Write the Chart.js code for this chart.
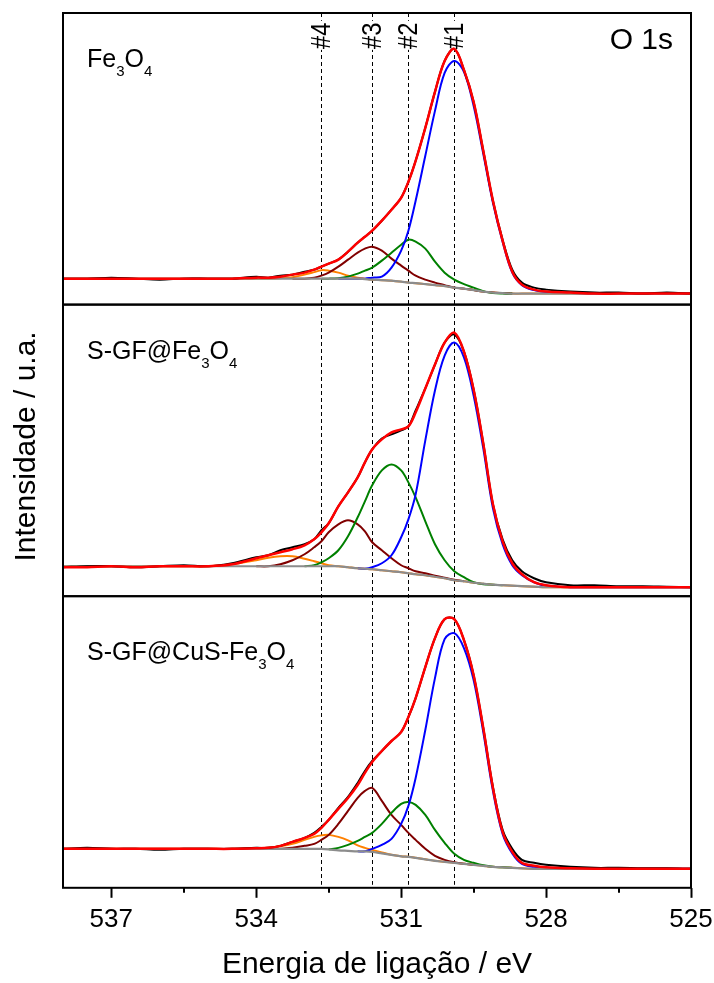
<!DOCTYPE html>
<html>
<head>
<meta charset="utf-8">
<title>O 1s XPS</title>
<script src="https://cdn.jsdelivr.net/npm/chart.js@4.4.1/dist/chart.umd.min.js"></script>
<style>
  html, body { margin: 0; padding: 0; background: #fff; }
  #wrap { width: 714px; height: 983px; }
</style>
</head>
<body>
<div id="wrap"><canvas id="xps" width="714" height="983"></canvas></div>
<script>
/* ============================================================
   O 1s — three stacked XPS panels with peak fits
   ============================================================ */

// binding energy grid (eV), shared by every series
const energy = [538, 537.5, 537, 536.5, 536, 535.5, 535, 534.5, 534, 533.75, 533.5, 533.25, 533,
  532.8, 532.65, 532.5, 532.3, 532.1, 531.9, 531.75, 531.6, 531.4, 531.2, 531, 530.85, 530.7,
  530.5, 530.3, 530.1, 529.9, 529.7, 529.5, 529.3, 529.1, 528.9, 528.7, 528.5, 528.25, 528,
  527.5, 527, 526.5, 526, 525.5, 525];

const xMajorTicks = [537, 534, 531, 528, 525];
const xMinorTicks = [535.5, 532.5, 529.5, 526.5];
const peakEnergies = [529.9, 530.85, 531.6, 532.65];
const peakLabels = ['#1', '#2', '#3', '#4'];
const sampleNames = ['Fe3O4', 'S-GF@Fe3O4', 'S-GF@CuS-Fe3O4'];

// ---- Fe3O4 (top) ----
const fe3o4Exp = [26, 26, 27, 26, 25, 26, 26, 26, 28, 27, 29, 30, 33, 35, 38, 41, 45, 53, 62, 68, 74, 84, 95, 107, 123, 144, 177, 213, 244, 256, 235, 203, 154, 104, 65, 35, 22, 17, 15, 13, 12, 12, 11, 12, 11];
const fe3o4Fit = [26, 26, 26, 26, 26, 26, 26, 26, 27, 27, 28, 30, 32, 35, 38, 41, 45, 53, 62, 68, 74, 84, 95, 107, 123, 144, 177, 213, 244, 256, 235, 203, 154, 104, 64, 33, 20, 15, 13, 12, 11, 11, 11, 11, 11];
const fe3o4Bg = [26, 26, 26, 26, 26, 26, 26, 26, 26, 26, 26, 26, 26, 26, 26, 26, 26, 26, 26, 25.5, 25, 24.5, 24, 23, 22, 21.5, 20.5, 19.5, 18.5, 17, 16, 14.5, 13, 12, 11.5, 11, 11, 11, 11, 11, 11, 11, 11, 11, 11];
const fe3o4P1 = [null, null, null, null, null, null, null, null, null, null, null, null, null, null, null, null, 26, 26, 26, 26, 27, 28, 37, 54, 74, 104, 149, 194, 232, 244, 233, 199, 151, 102, 63, 32, 19.5, 14.5, 12.5, 11.5, 11, 11, 11, 11, 11];
const fe3o4P2 = [null, null, null, null, null, null, null, null, null, null, null, null, null, null, 26, 26, 26.5, 28, 31, 34, 37, 44, 52, 60, 65, 63, 56, 43, 32, 25, 20.5, 17, 13.5, 11.5, 11, 11, null, null, null, null, null, null, null, null, null];
const fe3o4P3 = [null, null, null, null, null, null, null, null, null, null, null, 26, 26, 27, 29, 32, 38, 45, 52, 56, 58, 54, 46, 39, 34, 29, 25, 22, 19.5, 17, 16, 14.5, 13, 12, 11.5, 11, null, null, null, null, null, null, null, null, null];
const fe3o4P4 = [26, 26, 26, 26, 26, 26, 26, 26, 26, 26, 26.5, 27.5, 30, 32.5, 34.5, 34, 32, 29, 27, 26, 25, 24.5, 24, 23, 22, 21.5, 20.5, 19.5, 18.5, 17, 16, 14.5, 13, 12, 11.5, 11, 11, 11, 11, 11, 11, 11, 11, 11, 11];

// ---- S-GF@Fe3O4 (middle) ----
const gfExp = [29, 30, 30, 29, 30, 31, 30, 33, 39, 41, 46, 49, 52, 57, 66, 73, 90, 104, 119, 134, 147, 158, 162, 166, 170, 186, 208, 232, 254, 262, 245, 207, 153, 92, 57, 36, 25, 18, 14, 11, 11, 10, 10, 9.5, 9];
const gfFit = [29, 29, 30, 29, 30, 30, 30, 32, 38, 41, 44, 47, 51, 57, 64, 73, 90, 104, 119, 134, 147, 157, 164, 167, 170, 184, 208, 232, 254, 264, 245, 207, 153, 92, 55, 33, 22, 14, 11, 9, 9, 9, 9, 9, 9];
const gfBg = [30, 30, 30, 30, 30, 30, 30, 30, 30, 30, 30, 30, 30, 30, 30, 30, 30, 29, 28, 27.5, 27, 26, 25, 24, 23, 22, 21, 19.5, 18, 16, 15, 13.5, 12.5, 11.5, 11, 10.5, 10, 9.5, 9, 9, 9, 9, 9, 9, 9];
const gfP1 = [null, null, null, null, null, null, null, null, null, null, null, null, null, null, null, null, null, null, 28, 27.5, 29, 33, 41, 59, 77, 102, 156, 206, 241, 254, 239, 201, 148, 88, 52, 31, 21, 14, 10.5, 9, 9, 9, 9, 9, 9];
const gfP2 = [null, null, null, null, null, null, null, null, null, null, null, null, 30, 31, 34, 38, 46, 60, 79, 95, 111, 126, 132, 126, 114, 99, 75, 52, 36, 25, 19, 14, 12, 11.5, 11, null, null, null, null, null, null, null, null, null, null];
const gfP3 = [null, null, null, null, null, null, null, null, 30, 30, 32, 36, 42, 49, 55, 64, 72, 76, 72, 65, 54, 46, 38, 31, 28, 25, 23, 20.5, 18.5, 16.5, 15, null, null, null, null, null, null, null, null, null, null, null, null, null, null];
const gfP4 = [30, 30, 30, 30, 30, 30, 30, 32, 36, 38.5, 40, 40, 37.5, 35, 33, 31, 30, 29, 28, 27.5, 27, 26, 25, 24, 23, 22, 21, 19.5, 18, 16, 15, 13.5, 12.5, 11.5, 11, 10.5, 10, 9.5, 9, 9, 9, 9, 9, 9, 9];

// ---- S-GF@CuS-Fe3O4 (bottom) ----
const cuExp = [39, 40, 39, 39, 38, 39, 39, 39, 40, 40, 42, 46, 50, 55, 61, 68, 80, 91, 105, 117, 127, 137, 147, 156, 171, 190, 221, 250, 269, 269, 248, 213, 160, 101, 58, 39, 28, 25, 23, 21, 20, 20, 19.5, 19.5, 19];
const cuFit = [39, 39, 39, 39, 39, 39, 39, 39, 39.5, 40, 42, 46, 50, 54, 60, 68, 79, 90, 103, 115, 126, 137, 147, 156, 171, 190, 221, 250, 269, 269, 248, 213, 160, 100, 56, 36, 25, 22, 20.5, 19.5, 19, 19, 19, 19, 19];
const cuBg = [39, 39, 39, 39, 39, 39, 39, 39, 39, 39, 39, 39, 39, 39, 39, 38.5, 37.5, 37, 36.5, 36.5, 36, 34.5, 33, 31.5, 31, 30, 28.5, 27, 26, 25, 24, 23, 22, 21, 20.5, 20, 19.5, 19, 19, 19, 19, 19, 19, 19, 19];
const cuP1 = [null, null, null, null, null, null, null, null, null, null, null, null, null, null, null, null, null, null, 36.5, 36.5, 39, 43, 49, 64, 82, 110, 158, 210, 249, 255, 240, 208, 156, 97, 54, 34.5, 24, 21, 20, 19.5, 19, 19, 19, 19, 19];
const cuP2 = [null, null, null, null, null, null, null, null, null, null, null, null, null, null, null, 38.5, 40, 43, 47, 51, 55, 64, 75, 84, 86, 83, 73, 58, 45, 34, 28, 25, 22.5, 21, 20.5, 20, null, null, null, null, null, null, null, null, null];
const cuP3 = [null, null, null, null, null, null, null, null, null, null, 39, 40, 42, 44, 48, 53, 64, 77, 90, 97, 100, 87, 73, 63, 55, 48, 39, 32, 28, 25.5, 24, 23, null, null, null, null, null, null, null, null, null, null, null, null, null];
const cuP4 = [39, 39, 39, 39, 39, 39, 39, 39, 39.5, 40, 41.5, 44, 48, 51, 52.5, 53, 51, 47.5, 42.5, 40, 38, 35.5, 33, 31.5, 31, 30, 28.5, 27, 26, 25, 24, 23, 22, 21, 20.5, 20, 19.5, 19, 19, 19, 19, 19, 19, 19, 19];

const FONT = "'Liberation Sans', Arial, Helvetica, sans-serif";
Chart.defaults.font.family = FONT;
Chart.defaults.color = '#000';

const PEAK_COLORS = ['#0000ff', '#008000', '#800000', '#ff8000'];
const panels = [
  { id: 'yTop', exp: fe3o4Exp, fit: fe3o4Fit, bg: fe3o4Bg, peaks: [fe3o4P1, fe3o4P2, fe3o4P3, fe3o4P4], nameY: 54 },
  { id: 'yMid', exp: gfExp, fit: gfFit, bg: gfBg, peaks: [gfP1, gfP2, gfP3, gfP4], nameY: 54 },
  { id: 'yBot', exp: cuExp, fit: cuFit, bg: cuBg, peaks: [cuP1, cuP2, cuP3, cuP4], nameY: 64 },
];

function toPoints(values) {
  return energy.map((e, i) => ({ x: e, y: values[i] }));
}

function line(values, color, width, yAxisID, order) {
  return {
    data: toPoints(values),
    borderColor: color,
    borderWidth: width,
    yAxisID,
    order,
    fill: false,
    pointRadius: 0,
    tension: 0.35,
  };
}

const datasets = [];
panels.forEach(p => {
  datasets.push(line(p.fit, '#ff0000', 2.5, p.id, 0));
  datasets.push(line(p.exp, '#000000', 2, p.id, 1));
  datasets.push(line(p.bg, '#8c8c8c', 2.2, p.id, 2));
  p.peaks.forEach((vals, k) => datasets.push(line(vals, PEAK_COLORS[k], 2, p.id, 3 + k)));
});

function panelScale() {
  return {
    type: 'linear',
    position: 'left',
    stack: 'panels',
    stackWeight: 1,
    min: 0,
    max: 292,
    ticks: { display: false },
    grid: { display: false, drawTicks: false },
    border: { display: false },
  };
}

// draw "Fe3O4" style names with numeric subscripts
function drawFormula(ctx, text, x, y, size) {
  let cx = x;
  for (const ch of text) {
    const sub = /\d/.test(ch);
    ctx.font = `${sub ? Math.round(size * 0.6) : size}px ${FONT}`;
    ctx.fillText(ch, cx, sub ? y + size * 0.36 : y);
    cx += ctx.measureText(ch).width;
  }
}

const decorations = {
  id: 'decorations',
  beforeDatasetsDraw(chart) {
    const { ctx, chartArea: a, scales } = chart;
    const x = scales.x;
    ctx.save();
    // dashed peak markers
    ctx.strokeStyle = '#000';
    ctx.lineWidth = 1;
    ctx.setLineDash([4, 3]);
    peakEnergies.forEach(e => {
      const px = Math.round(x.getPixelForValue(e)) + 0.5;
      ctx.beginPath();
      ctx.moveTo(px, a.top);
      ctx.lineTo(px, a.bottom - 3);
      ctx.stroke();
    });
    ctx.setLineDash([]);
    // rotated peak labels
    peakEnergies.forEach((e, i) => {
      const px = x.getPixelForValue(e);
      ctx.save();
      ctx.translate(px, a.top + 36);
      ctx.rotate(-Math.PI / 2);
      ctx.scale(0.85, 1);
      ctx.font = `28px ${FONT}`;
      ctx.textAlign = 'left';
      ctx.textBaseline = 'middle';
      const w = ctx.measureText(peakLabels[i]).width;
      ctx.fillStyle = '#fff';
      ctx.fillRect(-1, -11, w + 3, 22);
      ctx.fillStyle = '#000';
      ctx.fillText(peakLabels[i], 0, 1);
      ctx.restore();
    });
    ctx.restore();
  },
  afterDraw(chart) {
    const { ctx, chartArea: a, scales } = chart;
    const x = scales.x;
    ctx.save();
    // panel frames
    ctx.strokeStyle = '#000';
    ctx.lineWidth = 2;
    panels.forEach(p => {
      const s = scales[p.id];
      ctx.strokeRect(a.left, s.top, a.right - a.left, s.bottom - s.top);
    });
    // minor ticks
    xMinorTicks.forEach(v => {
      const px = Math.round(x.getPixelForValue(v));
      ctx.beginPath();
      ctx.moveTo(px, a.bottom);
      ctx.lineTo(px, a.bottom + 5);
      ctx.stroke();
    });
    // sample names
    ctx.fillStyle = '#000';
    ctx.textAlign = 'left';
    ctx.textBaseline = 'alphabetic';
    panels.forEach((p, i) => {
      drawFormula(ctx, sampleNames[i], a.left + 24, scales[p.id].top + p.nameY, 25);
    });
    // core level
    ctx.font = `30px ${FONT}`;
    ctx.textAlign = 'right';
    ctx.fillText('O 1s', a.right - 18, a.top + 36);
    // y title
    ctx.save();
    ctx.translate(35, (a.top + a.bottom) / 2 - 4);
    ctx.rotate(-Math.PI / 2);
    ctx.textAlign = 'center';
    ctx.font = `30px ${FONT}`;
    ctx.fillText('Intensidade / u.a.', 0, 0);
    ctx.restore();
    ctx.restore();
  },
};

new Chart(document.getElementById('xps').getContext('2d'), {
  type: 'line',
  data: { datasets },
  options: {
    responsive: false,
    animation: false,
    devicePixelRatio: 1,
    events: [],
    layout: { padding: { left: 63, right: 23, top: 13, bottom: 0 } },
    plugins: { legend: { display: false }, tooltip: { enabled: false } },
    scales: {
      x: {
        type: 'linear',
        reverse: true,
        min: 525,
        max: 538,
        afterBuildTicks: s => { s.ticks = xMajorTicks.map(v => ({ value: v })); },
        // the edge labels fit inside the layout padding, so no extra room is needed
        afterFit: s => { s.paddingLeft = 0; s.paddingRight = 0; },
        ticks: { font: { size: 26 }, color: '#000', padding: 6, maxRotation: 0, autoSkip: false },
        grid: { drawOnChartArea: false, tickLength: 10, tickWidth: 2, tickColor: '#000' },
        border: { display: false },
        title: { display: true, text: 'Energia de ligação / eV', font: { size: 30 }, color: '#000', padding: { top: 6, bottom: 0 } },
      },
      yBot: panelScale(),
      yMid: panelScale(),
      yTop: panelScale(),
    },
  },
  plugins: [decorations],
});
</script>
</body>
</html>
